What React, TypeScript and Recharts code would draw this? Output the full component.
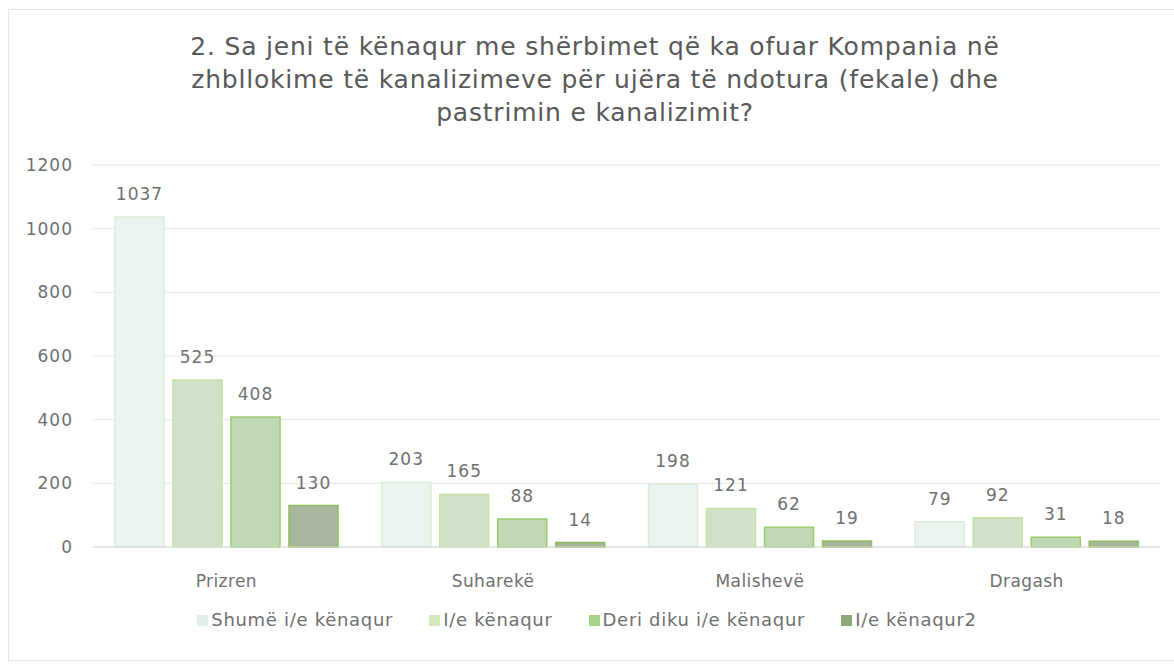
import { BarChart, Bar, XAxis, YAxis, CartesianGrid, Legend, LabelList } from "recharts";

const CATEGORIES = ["Prizren", "Suharekë", "Malishevë", "Dragash"];
const SHUME_KENAQUR = [1037, 203, 198, 79];
const KENAQUR = [525, 165, 121, 92];
const DERI_DIKU = [408, 88, 62, 31];
const KENAQUR2 = [130, 14, 19, 18];
const Y_TICKS = [0, 200, 400, 600, 800, 1000, 1200];

const TITLE_LINES = [
  "2. Sa jeni të kënaqur me shërbimet që ka ofuar Kompania në",
  "zhbllokime të kanalizimeve për ujëra të ndotura (fekale) dhe",
  "pastrimin e kanalizimit?",
];

const SERIES = [
  { key: "s1", name: "Shumë i/e kënaqur", fill: "#ebf4ef", stroke: "#dcecd8", icon: "#e3f0ea" },
  { key: "s2", name: "I/e kënaqur", fill: "#cfe1c8", stroke: "#c6e2a4", icon: "#d3e8bd" },
  { key: "s3", name: "Deri diku i/e kënaqur", fill: "#bfd9b4", stroke: "#9ccb6c", icon: "#a8d48a" },
  { key: "s4", name: "I/e kënaqur2", fill: "#a7b69d", stroke: "#8fbd58", icon: "#8caa78" },
];

const data = CATEGORIES.map((name, i) => ({
  name,
  s1: SHUME_KENAQUR[i],
  s2: KENAQUR[i],
  s3: DERI_DIKU[i],
  s4: KENAQUR2[i],
}));

const FONT = "'DejaVu Sans', 'Open Sans', sans-serif";
const TEXT_GRAY = "#707070";

function LegendContent() {
  return (
    <div style={{ display: "flex", justifyContent: "center", gap: 36, fontFamily: FONT, fontSize: 18, letterSpacing: 0.7, color: TEXT_GRAY, lineHeight: "24px" }}>
      {SERIES.map((s) => (
        <div key={s.key} style={{ display: "flex", alignItems: "center" }}>
          <span style={{ display: "inline-block", width: 11, height: 11, background: s.icon, marginRight: 3 }} />
          <span>{s.name}</span>
        </div>
      ))}
    </div>
  );
}

export default function App() {
  return (
    <div style={{ position: "absolute", left: 0, top: 0, width: 1174, height: 664, background: "#fff", fontFamily: FONT }}>
      <div
        style={{
          position: "absolute",
          left: 8,
          top: 9,
          width: 1180,
          height: 652,
          border: "1px solid #e4e4e4",
          boxSizing: "border-box",
        }}
      />
      <div
        style={{
          position: "absolute",
          left: 45,
          top: 30,
          width: 1100,
          textAlign: "center",
          fontSize: 25,
          letterSpacing: 0.8,
          lineHeight: "33px",
          color: "#595959",
          fontFamily: FONT,
        }}
      >
        {TITLE_LINES.map((l) => (
          <div key={l}>{l}</div>
        ))}
      </div>
      <BarChart
        width={1174}
        height={664}
        data={data}
        margin={{ top: 165, right: 14, bottom: 10, left: 0 }}
        barSize={49}
        barGap={9}
        style={{ position: "absolute", left: 0, top: 0 }}
      >
        <CartesianGrid vertical={false} stroke="#e8e8e8" />
        <XAxis
          dataKey="name"
          axisLine={{ stroke: "#d9d9d9" }}
          tickLine={false}
          height={50}
          tickMargin={22}
          tick={{ fill: TEXT_GRAY, fontSize: 17, fontFamily: FONT, letterSpacing: 0.4 }}
        />
        <YAxis
          domain={[0, 1200]}
          ticks={Y_TICKS}
          width={93}
          axisLine={false}
          tickLine={false}
          tickMargin={14}
          tick={{ fill: TEXT_GRAY, fontSize: 17, fontFamily: FONT, letterSpacing: 1 }}
        />
        <Legend verticalAlign="bottom" height={57} content={<LegendContent />} wrapperStyle={{ top: 608, left: 0, width: 1174 }} />
        {SERIES.map((s) => (
          <Bar key={s.key} dataKey={s.key} name={s.name} fill={s.fill} stroke={s.stroke} strokeWidth={1.5} isAnimationActive={false}>
            <LabelList dataKey={s.key} position="top" offset={17} fill={TEXT_GRAY} fontSize={17} fontFamily={FONT} letterSpacing={1} />
          </Bar>
        ))}
      </BarChart>
    </div>
  );
}
